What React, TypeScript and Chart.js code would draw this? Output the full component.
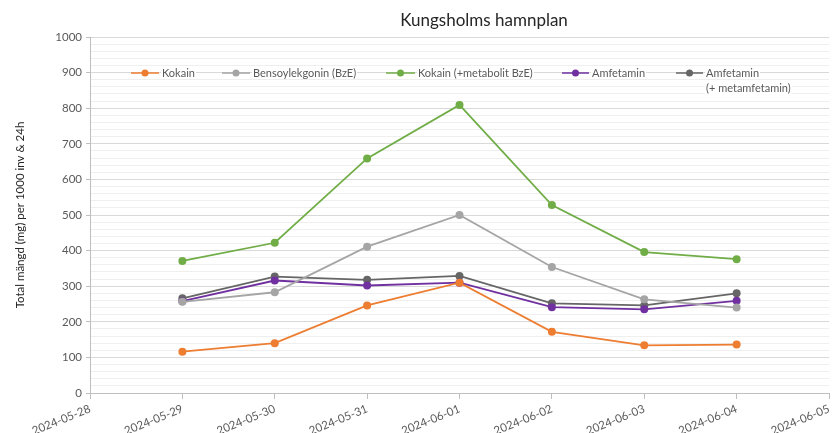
import React, { useEffect, useRef } from "react";
import { Chart, registerables } from "chart.js";

Chart.register(...registerables);

const titleText = "Kungsholms hamnplan";
const yAxisTitle = "Total mängd (mg) per 1000 inv & 24h";
const dates = [
  "2024-05-28",
  "2024-05-29",
  "2024-05-30",
  "2024-05-31",
  "2024-06-01",
  "2024-06-02",
  "2024-06-03",
  "2024-06-04",
  "2024-06-05",
];
const sampleDates = dates.slice(1, 8);

const kokain = [116, 140, 246, 310, 172, 134, 136];
const bze = [256, 283, 411, 500, 354, 263, 240];
const kokainMetabolit = [371, 422, 659, 809, 528, 396, 376];
const amfetamin = [258, 316, 302, 310, 241, 235, 259];
const amfetaminMeta = [266, 327, 318, 329, 252, 246, 280];

const seriesNames = [
  "Kokain",
  "Bensoylekgonin (BzE)",
  "Kokain (+metabolit BzE)",
  "Amfetamin",
  "Amfetamin\n(+ metamfetamin)",
];
const seriesValues = [kokain, bze, kokainMetabolit, amfetamin, amfetaminMeta];
const seriesColors = ["#ED7D31", "#A5A5A5", "#70AD47", "#7030A0", "#666666"];

const FONT = "Lato, 'Open Sans', sans-serif";

const titleLegendPlugin = {
  id: "titleAndLegend",
  afterDatasetsDraw(chart: any) {
    const ctx = chart.ctx;
    ctx.save();
    // title
    ctx.font = `17px ${FONT}`;
    ctx.fillStyle = "#262626";
    ctx.textAlign = "center";
    ctx.textBaseline = "middle";
    ctx.fillText(titleText, 484, 21);

    const items = [
      { lx: 131, tx: 162 },
      { lx: 222, tx: 253 },
      { lx: 386, tx: 418 },
      { lx: 562, tx: 592 },
      { lx: 676, tx: 706 },
    ];
    const y = 73;
    ctx.font = `11px ${FONT}`;
    chart.data.datasets.forEach((ds: any, i: number) => {
      const it = items[i];
      const lines = String(ds.label).split("\n");
      ctx.fillStyle = "#ffffff";
      lines.forEach((ln: string, k: number) => {
        const w = ctx.measureText(ln).width;
        ctx.fillRect(it.tx - 1, y + k * 15 - 6, w + 2, 12);
      });
      ctx.strokeStyle = ds.borderColor;
      ctx.lineWidth = 1.5;
      ctx.beginPath();
      ctx.moveTo(it.lx, y);
      ctx.lineTo(it.tx - 3, y);
      ctx.stroke();
      ctx.fillStyle = ds.borderColor;
      ctx.beginPath();
      ctx.arc((it.lx + it.tx - 3) / 2, y, 3.5, 0, Math.PI * 2);
      ctx.fill();
      ctx.fillStyle = "#595959";
      ctx.textAlign = "left";
      lines.forEach((ln: string, k: number) => {
        ctx.fillText(ln, it.tx, y + k * 15);
      });
    });
    ctx.restore();
  },
};

export default function App() {
  const ref = useRef<HTMLCanvasElement | null>(null);

  useEffect(() => {
    if (!ref.current) return;
    const datasets = seriesNames.map((name, i) => ({
      label: name,
      data: sampleDates.map((d, j) => ({ x: d, y: seriesValues[i][j] })),
      borderColor: seriesColors[i],
      backgroundColor: seriesColors[i],
      borderWidth: 1.8,
      pointRadius: 4,
      pointHoverRadius: 4,
      pointBorderWidth: 0,
      tension: 0,
    }));
    const chart = new Chart(ref.current, {
      type: "line",
      data: { labels: dates, datasets },
      plugins: [titleLegendPlugin],
      options: {
        animation: false,
        responsive: true,
        maintainAspectRatio: false,
        layout: { padding: { top: 37, right: 1, bottom: 0, left: 0 } },
        plugins: {
          legend: { display: false },
          tooltip: { enabled: false },
          title: { display: false },
        },
        scales: {
          x: {
            type: "category",
            offset: false,
            grid: {
              drawOnChartArea: false,
              drawTicks: true,
              tickLength: 6,
              color: "#BFBFBF",
            },
            border: { color: "#BFBFBF", width: 1 },
            ticks: {
              autoSkip: false,
              minRotation: 22,
              maxRotation: 22,
              color: "#595959",
              font: { family: FONT, size: 11.5 },
              padding: 3,
            },
            afterFit: (s: any) => {
              s.height = 40;
              s.paddingRight = 0;
            },
          },
          y: {
            min: 0,
            max: 1000,
            ticks: {
              stepSize: 20,
              maxTicksLimit: 100,
              autoSkip: false,
              color: "#595959",
              font: { family: FONT, size: 11.5 },
              padding: 4,
              callback: (v: any) => (Number(v) % 100 === 0 ? String(v) : ""),
            },
            grid: {
              color: (c: any) =>
                c.tick && c.tick.value % 100 === 0 ? "#D9D9D9" : "#EFEFEF",
              tickColor: (c: any) =>
                c.tick && c.tick.value % 100 === 0 ? "#BFBFBF" : "rgba(0,0,0,0)",
              tickLength: 4,
              lineWidth: 1,
            },
            border: { color: "#BFBFBF", width: 1 },
            title: {
              display: true,
              text: yAxisTitle,
              color: "#262626",
              font: { family: FONT, size: 11.5 },
              padding: { top: 13, bottom: 10 },
            },
            afterFit: (s: any) => {
              s.width = 90;
            },
          },
        },
      },
    });
    return () => chart.destroy();
  }, []);

  return (
    <div
      style={{
        position: "fixed",
        left: 0,
        top: 0,
        width: 833,
        height: 433,
        background: "#fff",
      }}
    >
      <canvas ref={ref} />
    </div>
  );
}
